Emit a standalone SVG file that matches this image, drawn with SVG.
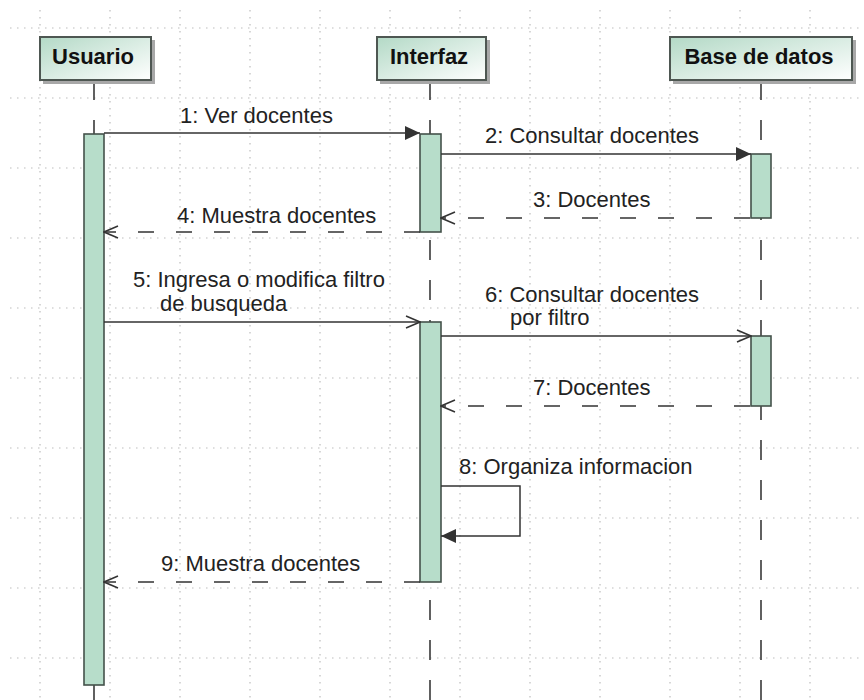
<svg xmlns="http://www.w3.org/2000/svg" width="864" height="700" viewBox="0 0 864 700">
<style>
.grid line{stroke:#bdbdbd;stroke-width:1.2;stroke-dasharray:1.5 5.5}
.hd{fill:url(#hg);stroke:#4e5752;stroke-width:2}
.sh{fill:#a8a8a8}
.ht{font-family:"Liberation Sans",Arial,sans-serif;font-weight:bold;font-size:22px;fill:#111}
.life{stroke:#3a3a3a;stroke-width:1.6;stroke-dasharray:20 20;fill:none}
.act{fill:#b7ddca;stroke:#44524a;stroke-width:1.6}
.msg{stroke:#333;stroke-width:1.5;fill:none}
.ret{stroke:#333;stroke-width:1.5;fill:none;stroke-dasharray:16 22}
.lbl{font-family:"Liberation Sans",Arial,sans-serif;font-size:22px;fill:#222}
</style>
<defs>
<linearGradient id="hg" x1="0" y1="0" x2="1" y2="1">
<stop offset="0" stop-color="#b3d9c6"/>
<stop offset="1" stop-color="#ffffff"/>
</linearGradient>
<marker id="fill" markerWidth="16" markerHeight="14" refX="15" refY="7" orient="auto" markerUnits="userSpaceOnUse">
<path d="M0,0 L15,7 L0,14 z" fill="#333"/>
</marker>
<marker id="open" markerWidth="16" markerHeight="14" refX="15" refY="7" orient="auto" markerUnits="userSpaceOnUse">
<path d="M1,1 L15,7 L1,13" fill="none" stroke="#333" stroke-width="1.5"/>
</marker>
</defs>
<rect width="864" height="700" fill="#ffffff"/>
<g class="grid">
<line x1="10" y1="28" x2="864" y2="28"/><line x1="10" y1="98" x2="864" y2="98"/><line x1="10" y1="168" x2="864" y2="168"/><line x1="10" y1="238" x2="864" y2="238"/><line x1="10" y1="308" x2="864" y2="308"/><line x1="10" y1="378" x2="864" y2="378"/><line x1="10" y1="448" x2="864" y2="448"/><line x1="10" y1="518" x2="864" y2="518"/><line x1="10" y1="588" x2="864" y2="588"/><line x1="10" y1="658" x2="864" y2="658"/>
<line x1="40" y1="10" x2="40" y2="700"/><line x1="110" y1="10" x2="110" y2="700"/><line x1="180" y1="10" x2="180" y2="700"/><line x1="250" y1="10" x2="250" y2="700"/><line x1="320" y1="10" x2="320" y2="700"/><line x1="390" y1="10" x2="390" y2="700"/><line x1="460" y1="10" x2="460" y2="700"/><line x1="530" y1="10" x2="530" y2="700"/><line x1="600" y1="10" x2="600" y2="700"/><line x1="670" y1="10" x2="670" y2="700"/><line x1="740" y1="10" x2="740" y2="700"/><line x1="810" y1="10" x2="810" y2="700"/>
</g>
<g id="lifelines">
<line class="life" x1="94" y1="80" x2="94" y2="700"/>
<line class="life" x1="430" y1="80" x2="430" y2="700"/>
<line class="life" x1="761" y1="80" x2="761" y2="700"/>
</g>
<g id="usuario">
<rect class="sh" x="43" y="40" width="112" height="44"/>
<rect class="hd" x="40" y="37" width="111" height="43"/>
<text class="ht" x="93" y="64" text-anchor="middle">Usuario</text>
<rect class="act" x="84" y="134" width="20" height="551"/>
</g>
<g id="interfaz">
<rect class="sh" x="380" y="40" width="110" height="44"/>
<rect class="hd" x="377" y="37" width="109" height="43"/>
<text class="ht" x="429" y="64" text-anchor="middle">Interfaz</text>
<rect class="act" x="420" y="134" width="21" height="98"/>
<rect class="act" x="420" y="322" width="21" height="260"/>
</g>
<g id="basedatos">
<rect class="sh" x="673" y="40" width="183" height="44"/>
<rect class="hd" x="670" y="37" width="182" height="43"/>
<text class="ht" x="759" y="64" text-anchor="middle">Base de datos</text>
<rect class="act" x="751" y="154" width="20" height="64"/>
<rect class="act" x="751" y="336" width="20" height="70"/>
</g>
<g id="connectors">
<line class="msg" x1="104" y1="133" x2="420" y2="133" marker-end="url(#fill)"/>
<line class="msg" x1="441" y1="154" x2="751" y2="154" marker-end="url(#fill)"/>
<line class="ret" x1="750" y1="218" x2="441" y2="218" marker-end="url(#open)"/>
<line class="ret" x1="420" y1="232" x2="104" y2="232" marker-end="url(#open)"/>
<line class="msg" x1="104" y1="322" x2="420" y2="322" marker-end="url(#open)"/>
<line class="msg" x1="441" y1="336" x2="751" y2="336" marker-end="url(#open)"/>
<line class="ret" x1="750" y1="406" x2="441" y2="406" marker-end="url(#open)"/>
<polyline class="msg" points="441,486 520,486 520,536 441,536" marker-end="url(#fill)"/>
<line class="ret" x1="420" y1="582" x2="104" y2="582" marker-end="url(#open)"/>
</g>
<g id="labels">
<text class="lbl" x="180" y="123">1: Ver docentes</text>
<text class="lbl" x="485" y="143">2: Consultar docentes</text>
<text class="lbl" x="533" y="207">3: Docentes</text>
<text class="lbl" x="177" y="223">4: Muestra docentes</text>
<text class="lbl" x="133" y="287">5: Ingresa o modifica filtro</text>
<text class="lbl" x="160" y="311">de busqueda</text>
<text class="lbl" x="485" y="302">6: Consultar docentes</text>
<text class="lbl" x="510" y="325">por filtro</text>
<text class="lbl" x="533" y="395">7: Docentes</text>
<text class="lbl" x="459" y="474">8: Organiza informacion</text>
<text class="lbl" x="161" y="571">9: Muestra docentes</text>
</g>
</svg>
